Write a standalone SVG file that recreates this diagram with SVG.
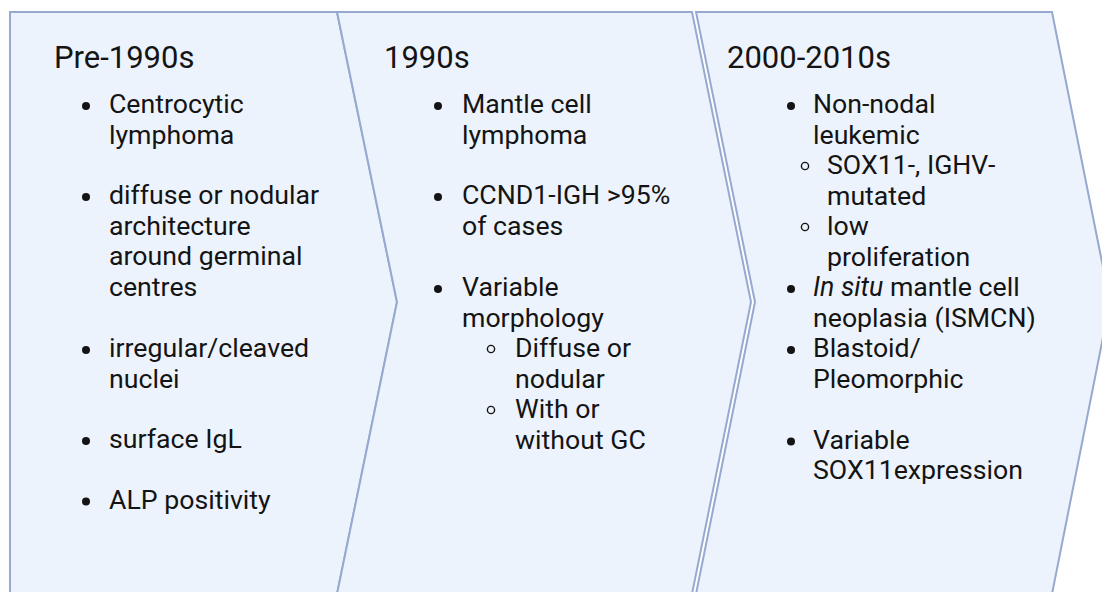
<svg xmlns="http://www.w3.org/2000/svg" width="1102" height="592" viewBox="0 0 1102 592">
<style>
.bg{fill:#ffffff}
.shape{fill:#edf3fc;stroke:#96a9d0;stroke-width:2;stroke-linejoin:miter}
.h{font-family:Roboto,"Liberation Sans",sans-serif;font-size:31px;fill:#141414}
.t{font-family:Roboto,"Liberation Sans",sans-serif;font-size:26.7px;fill:#141414}
.dot{fill:#141414}
.sub{fill:none;stroke:#141414;stroke-width:1.4}
</style>
<rect class="bg" x="0" y="0" width="1102" height="592"/>
<g id="connectors"></g>
<g id="pre1990s">
  <path class="shape" d="M10,12 H337 L397,302 L337,594 H10 Z"/>
  <text class="h" x="54" y="68">Pre-1990s</text>
  <circle class="dot" cx="86" cy="106" r="4"/>
  <text class="t" x="109" y="113">Centrocytic</text>
  <text class="t" x="109" y="143.5">lymphoma</text>
  <circle class="dot" cx="86" cy="197" r="4"/>
  <text class="t" x="109" y="204">diffuse or nodular</text>
  <text class="t" x="109" y="234.5">architecture</text>
  <text class="t" x="109" y="265">around germinal</text>
  <text class="t" x="109" y="295.5">centres</text>
  <circle class="dot" cx="86" cy="350" r="4"/>
  <text class="t" x="109" y="357">irregular/cleaved</text>
  <text class="t" x="109" y="387.5">nuclei</text>
  <circle class="dot" cx="86" cy="441" r="4"/>
  <text class="t" x="109" y="448">surface IgL</text>
  <circle class="dot" cx="86" cy="501.5" r="4"/>
  <text class="t" x="109" y="508.5">ALP positivity</text>
</g>
<g id="n1990s">
  <path class="shape" d="M337,12 H692 L751,302 L692,594 H337 L397,302 Z"/>
  <text class="h" x="384" y="68">1990s</text>
  <circle class="dot" cx="438" cy="106" r="4"/>
  <text class="t" x="462" y="113">Mantle cell</text>
  <text class="t" x="462" y="143.5">lymphoma</text>
  <circle class="dot" cx="438" cy="197" r="4"/>
  <text class="t" x="462" y="204">CCND1-IGH &gt;95%</text>
  <text class="t" x="462" y="234.5">of cases</text>
  <circle class="dot" cx="438" cy="289" r="4"/>
  <text class="t" x="462" y="296">Variable</text>
  <text class="t" x="462" y="326.5">morphology</text>
  <circle class="sub" cx="491" cy="349" r="3.6"/>
  <text class="t" x="515" y="357">Diffuse or</text>
  <text class="t" x="515" y="387.5">nodular</text>
  <circle class="sub" cx="491" cy="410" r="3.6"/>
  <text class="t" x="515" y="418">With or</text>
  <text class="t" x="515" y="448.5">without GC</text>
</g>
<g id="n2000s">
  <path class="shape" d="M696,12 H1052 L1110,302 L1052,594 H696 L755,302 Z"/>
  <text class="h" x="727" y="68">2000-2010s</text>
  <circle class="dot" cx="791" cy="106" r="4"/>
  <text class="t" x="813" y="113">Non-nodal</text>
  <text class="t" x="813" y="143.5">leukemic</text>
  <circle class="sub" cx="805" cy="166" r="3.6"/>
  <text class="t" x="827" y="174">SOX11-, IGHV-</text>
  <text class="t" x="827" y="204.5">mutated</text>
  <circle class="sub" cx="805" cy="227" r="3.6"/>
  <text class="t" x="827" y="235">low</text>
  <text class="t" x="827" y="265.5">proliferation</text>
  <circle class="dot" cx="791" cy="289" r="4"/>
  <text class="t" x="813" y="296"><tspan font-style="italic">In situ</tspan> mantle cell</text>
  <text class="t" x="813" y="326.5">neoplasia (ISMCN)</text>
  <circle class="dot" cx="791" cy="350" r="4"/>
  <text class="t" x="813" y="357">Blastoid/</text>
  <text class="t" x="813" y="387.5">Pleomorphic</text>
  <circle class="dot" cx="791" cy="441.5" r="4"/>
  <text class="t" x="813" y="448.5">Variable</text>
  <text class="t" x="813" y="479">SOX11expression</text>
</g>
</svg>
